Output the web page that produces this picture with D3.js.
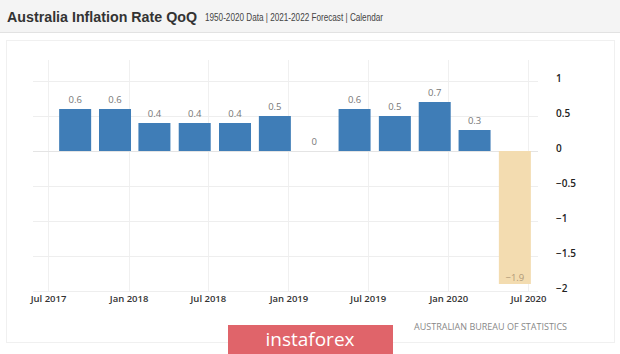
<!DOCTYPE html>
<html>
<head>
<meta charset="utf-8">
<script src="https://cdn.jsdelivr.net/npm/d3@7"></script>
<style>
  html, body { margin: 0; padding: 0; background: #ffffff; }
  svg { display: block; }
</style>
</head>
<body>
<svg id="chart" width="620" height="354"></svg>
<script>
// ---- data ----
const quarters = ["2017-09-01","2017-12-01","2018-03-01","2018-06-01","2018-09-01","2018-12-01",
                  "2019-03-01","2019-06-01","2019-09-01","2019-12-01","2020-03-01","2020-06-01"];
const values = [0.6, 0.6, 0.4, 0.4, 0.4, 0.5, 0, 0.6, 0.5, 0.7, 0.3, -1.9];
const forecastFlags = [false,false,false,false,false,false,false,false,false,false,false,true];
const xTickDates = ["2017-07-01","2018-01-01","2018-07-01","2019-01-01","2019-07-01","2020-01-01","2020-07-01"];
const yTicks = [1, 0.5, 0, -0.5, -1, -1.5, -2];

const parse = d3.utcParse("%Y-%m-%d");
const svg = d3.select("#chart");

// background & header
svg.append("rect").attr("x",0).attr("y",0).attr("width",620).attr("height",354).attr("fill","#ffffff");
svg.append("rect").attr("x",0).attr("y",0).attr("width",620).attr("height",32).attr("fill","#f4f4f4");
svg.append("line").attr("x1",0).attr("x2",620).attr("y1",32.5).attr("y2",32.5).attr("stroke","#e2e2e2");
svg.append("text").attr("x",7).attr("y",22)
  .attr("font-family","Liberation Sans, Arial, sans-serif").attr("font-size",14.5).attr("font-weight","bold")
  .attr("fill","#333").attr("textLength",190).attr("lengthAdjust","spacingAndGlyphs")
  .text("Australia Inflation Rate QoQ");
svg.append("text").attr("x",205).attr("y",21)
  .attr("font-family","Liberation Sans, Arial, sans-serif").attr("font-size",11)
  .attr("fill","#444").attr("textLength",178).attr("lengthAdjust","spacingAndGlyphs")
  .text("1950-2020 Data | 2021-2022 Forecast | Calendar");

// panel
svg.append("rect").attr("x",6.5).attr("y",40.5).attr("width",608).attr("height",302)
  .attr("fill","#ffffff").attr("stroke","#f0f0f0");

// scales
const x = d3.scaleUtc()
  .domain([parse("2017-07-01"), parse("2020-07-01")])
  .range([48, 528]);
const y = d3.scaleLinear().domain([-2, 1]).range([291, 81]);

// grid
const g = svg.append("g");
g.selectAll("line.vg").data(xTickDates).join("line")
  .attr("x1", d => Math.round(x(parse(d))) + 0.5).attr("x2", d => Math.round(x(parse(d))) + 0.5)
  .attr("y1", 60).attr("y2", 291)
  .attr("stroke", "#f0f0f0");
g.selectAll("line.hg").data(yTicks).join("line")
  .attr("x1", 33).attr("x2", 538)
  .attr("y1", d => Math.round(y(d)) + 0.5).attr("y2", d => Math.round(y(d)) + 0.5)
  .attr("stroke", d => d === 0 ? "#e4e4e4" : "#eeeeee");

// bars
const bw = 32;
svg.append("g").selectAll("rect").data(values).join("rect")
  .attr("x", (d,i) => x(parse(quarters[i])) - bw/2)
  .attr("y", d => y(Math.max(0, d)))
  .attr("width", bw)
  .attr("height", d => Math.abs(y(d) - y(0)))
  .attr("fill", (d,i) => forecastFlags[i] ? "#f3dcb0" : "#3f7db7");

// value labels
svg.append("g").selectAll("text").data(values).join("text")
  .attr("x", (d,i) => x(parse(quarters[i])))
  .attr("y", d => d >= 0 ? y(d) - 6 : y(d) - 3)
  .attr("text-anchor", "middle")
  .attr("font-family", "Open Sans, DejaVu Sans, sans-serif")
  .attr("font-size", 9.5)
  .attr("fill", (d,i) => forecastFlags[i] ? "#b09a78" : "#777")
  .text(d => d3.format("")(d));

// x axis
const xAxis = d3.axisBottom(x)
  .tickValues(xTickDates.map(parse))
  .tickFormat(d3.utcFormat("%b %Y"))
  .tickSize(0).tickPadding(0);
const xg = svg.append("g").attr("transform", "translate(0,295)").call(xAxis);
xg.select(".domain").remove();
xg.selectAll("text").attr("dy", "0.71em")
  .attr("font-family", "Open Sans, DejaVu Sans, sans-serif").attr("font-size", 9.5)
  .attr("font-weight", "600").attr("fill", "#333");

// y axis (right)
const yAxis = d3.axisRight(y).tickValues(yTicks).tickFormat(d3.format("")).tickSize(0).tickPadding(0);
const yg = svg.append("g").attr("transform", "translate(556,-3)").call(yAxis);
yg.select(".domain").remove();
yg.selectAll("text")
  .attr("font-family", "Open Sans, DejaVu Sans, sans-serif").attr("font-size", 10)
  .attr("font-weight", "600").attr("fill", "#222");

// source
svg.append("text").attr("x", 567).attr("y", 330).attr("text-anchor", "end")
  .attr("font-family", "Open Sans, DejaVu Sans, sans-serif").attr("font-size", 9)
  .attr("fill", "#888").text("AUSTRALIAN BUREAU OF STATISTICS");

// logo
svg.append("rect").attr("x", 228).attr("y", 325).attr("width", 165).attr("height", 29).attr("fill", "#e0646a");
svg.append("text").attr("x", 310).attr("y", 346).attr("text-anchor", "middle")
  .attr("font-family", "Open Sans, DejaVu Sans, sans-serif").attr("font-size", 19)
  .attr("fill", "#ffffff").text("instaforex");
</script>
</body>
</html>
